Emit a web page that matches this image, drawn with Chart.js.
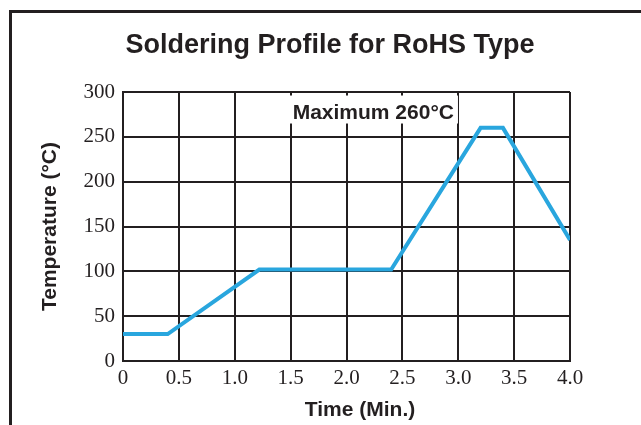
<!DOCTYPE html>
<html>
<head>
<meta charset="utf-8">
<script src="https://cdn.jsdelivr.net/npm/chart.js@4.4.1/dist/chart.umd.min.js"></script>
<style>
  html, body { margin: 0; padding: 0; background: #fff; }
  canvas { display: block; }
</style>
</head>
<body>
<canvas id="profile-chart" width="641" height="425"></canvas>
<script>
// reflow profile (time in minutes, temperature in °C)
const timeMin = [0, 0.4, 1.22, 2.4, 3.2, 3.4, 4.0];
const tempC = [30, 30, 102, 102, 260, 260, 135];
const xTicks = [0, 0.5, 1.0, 1.5, 2.0, 2.5, 3.0, 3.5, 4.0];
const xTickLabels = ['0', '0.5', '1.0', '1.5', '2.0', '2.5', '3.0', '3.5', '4.0'];
const yTicks = [0, 50, 100, 150, 200, 250, 300];
const peakTemp = 260;
const peakNote = { x: 2.24, y: 276, text: 'Maximum ' + peakTemp + '°C' };

const ink = '#231f20';
const sans = '"Liberation Sans", Arial, sans-serif';
const serif = '"Liberation Serif", "Times New Roman", serif';

const ctx = document.getElementById('profile-chart').getContext('2d');

// frame, headings and the peak note
const decorations = {
  id: 'decorations',
  beforeDatasetsDraw(chart) {
    const c = chart.ctx;
    const { x, y } = chart.scales;
    c.save();
    c.font = 'bold 21px ' + sans;
    c.textAlign = 'center';
    c.textBaseline = 'middle';
    const px = x.getPixelForValue(peakNote.x);
    const py = y.getPixelForValue(peakNote.y);
    const w = c.measureText(peakNote.text).width;
    c.fillStyle = '#fff';
    c.fillRect(px - w / 2 - 4, py - 18, w + 8, 28);
    c.fillStyle = ink;
    c.fillText(peakNote.text, px, py);
    c.restore();
  },
  afterDraw(chart) {
    const c = chart.ctx;
    const area = chart.chartArea;
    c.save();
    c.strokeStyle = ink;
    c.lineWidth = 3;
    c.beginPath();
    c.moveTo(641, 11.5);
    c.lineTo(10.5, 11.5);
    c.lineTo(10.5, 425);
    c.stroke();

    c.fillStyle = ink;
    c.textAlign = 'center';
    c.textBaseline = 'middle';
    c.font = 'bold 27px ' + sans;
    c.fillText('Soldering Profile for RoHS Type', 330, 46);

    c.font = 'bold 21px ' + sans;
    c.fillText('Time (Min.)', 360, 410);

    c.translate(50, (area.top + area.bottom) / 2);
    c.rotate(-Math.PI / 2);
    c.fillText('Temperature (°C)', 0, 0);
    c.restore();
  }
};

new Chart(ctx, {
  type: 'line',
  data: {
    datasets: [{
      data: timeMin.map((t, i) => ({ x: t, y: tempC[i] })),
      borderColor: '#29a6de',
      borderWidth: 4,
      pointRadius: 0,
      tension: 0,
      fill: false
    }]
  },
  options: {
    responsive: false,
    animation: false,
    layout: { padding: { left: 0, top: 92, right: 71, bottom: 0 } },
    plugins: {
      legend: { display: false },
      tooltip: { enabled: false },
      title: { display: false }
    },
    scales: {
      x: {
        type: 'linear',
        min: 0,
        max: 4,
        afterFit: s => { s.height = 64; },
        afterBuildTicks: s => { s.ticks = xTicks.map(v => ({ value: v })); },
        ticks: {
          color: ink,
          font: { family: serif, size: 21 },
          padding: 5,
          callback: (v, i) => xTickLabels[i]
        },
        grid: { color: ink, lineWidth: 2, drawTicks: false },
        border: { color: ink, width: 2 }
      },
      y: {
        min: 0,
        max: 300,
        afterFit: s => { s.width = 123; },
        afterBuildTicks: s => { s.ticks = yTicks.map(v => ({ value: v })); },
        ticks: {
          color: ink,
          font: { family: serif, size: 21 },
          padding: 8
        },
        grid: { color: ink, lineWidth: 2, drawTicks: false },
        border: { color: ink, width: 2 }
      }
    }
  },
  plugins: [decorations]
});
</script>
</body>
</html>
